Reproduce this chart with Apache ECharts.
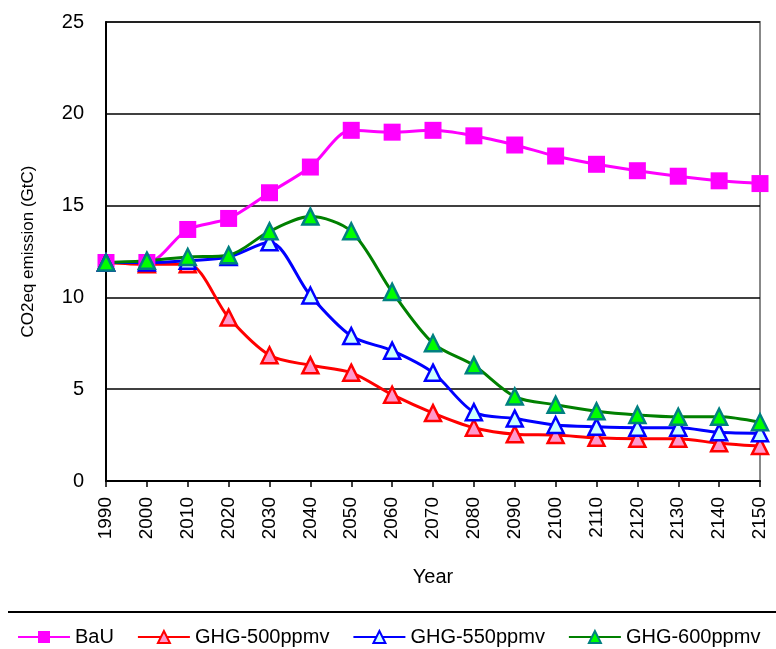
<!DOCTYPE html>
<html>
<head>
  <meta charset="utf-8">
  <title>CO2eq emission</title>
  <script src="https://cdn.jsdelivr.net/npm/echarts@6/dist/echarts.min.js"></script>
  <style>
    html, body { margin: 0; padding: 0; background: #fff; }
    #main { width: 776px; height: 649px; }
  </style>
</head>
<body>
<div id="main"></div>
<script>
  // 数据
  var years = ['1990', '2000', '2010', '2020', '2030', '2040', '2050', '2060', '2070',
               '2080', '2090', '2100', '2110', '2120', '2130', '2140', '2150'];
  var bau    = [11.9, 11.9, 13.7, 14.3, 15.7, 17.1, 19.1, 19.0, 19.1, 18.8, 18.3, 17.7, 17.25, 16.9, 16.6, 16.35, 16.2];
  var ghg500 = [11.9, 11.8, 11.8, 8.9, 6.85, 6.3, 5.9, 4.7, 3.7, 2.9, 2.55, 2.5, 2.35, 2.3, 2.3, 2.05, 1.9];
  var ghg550 = [11.9, 11.9, 12.0, 12.2, 13.0, 10.1, 7.9, 7.1, 5.9, 3.75, 3.4, 3.05, 2.95, 2.9, 2.9, 2.65, 2.6];
  var ghg600 = [11.9, 12.0, 12.2, 12.3, 13.6, 14.4, 13.6, 10.3, 7.5, 6.3, 4.6, 4.15, 3.8, 3.6, 3.5, 3.5, 3.2];

  var font = 'Liberation Sans, Arial, sans-serif';
  var chart = echarts.init(document.getElementById('main'));

  function tri(name, data, line, border, fill) {
    return {
      name: name, type: 'line', data: data, smooth: 0.3,
      symbol: 'triangle', symbolSize: 16,
      lineStyle: { color: line, width: 3 },
      itemStyle: { color: fill, borderColor: border, borderWidth: 2.5 }
    };
  }

  var option = {
    animation: false,
    grid: { left: 106, right: 16, top: 22, bottom: 168, show: true, borderColor: '#888', borderWidth: 2 },
    legend: {
      left: 17, top: 627, width: 759, padding: 0,
      itemWidth: 52, itemHeight: 15, itemGap: 23,
      textStyle: { fontFamily: font, fontSize: 20, color: '#000' }
    },
    xAxis: {
      type: 'category', data: years, boundaryGap: false,
      name: 'Year', nameLocation: 'middle', nameGap: 86,
      nameTextStyle: { fontFamily: font, fontSize: 20, color: '#000' },
      axisLine: { lineStyle: { color: '#000', width: 2 } },
      axisTick: { length: 6, lineStyle: { color: '#000', width: 1.5 } },
      axisLabel: { rotate: 90, margin: 16, fontFamily: font, fontSize: 19, color: '#000' },
      splitLine: { show: false }
    },
    yAxis: {
      type: 'value', min: 0, max: 25, interval: 5,
      name: 'CO2eq emission (GtC)', nameLocation: 'middle', nameGap: 69,
      nameTextStyle: { fontFamily: font, fontSize: 17, color: '#000' },
      axisLine: { show: true, lineStyle: { color: '#000', width: 2 } },
      axisTick: { show: false },
      axisLabel: { margin: 22, fontFamily: font, fontSize: 20, color: '#000' },
      splitLine: { lineStyle: { color: '#000', width: 1.5 } }
    },
    graphic: [{
      type: 'line', shape: { x1: 8, y1: 612, x2: 776, y2: 612 },
      style: { stroke: '#000', lineWidth: 2 }
    }],
    series: [
      {
        name: 'BaU', type: 'line', data: bau, smooth: 0.3,
        symbol: 'rect', symbolSize: 17,
        lineStyle: { color: '#ff00ff', width: 3 },
        itemStyle: { color: '#ff00ff' }
      },
      tri('GHG-500ppmv', ghg500, '#ff0000', '#ff0000', '#ff99cc'),
      tri('GHG-550ppmv', ghg550, '#0000ff', '#0000ff', '#ccffff'),
      tri('GHG-600ppmv', ghg600, '#008000', '#008080', '#00ff00')
    ]
  };
  chart.setOption(option);
</script>
</body>
</html>
